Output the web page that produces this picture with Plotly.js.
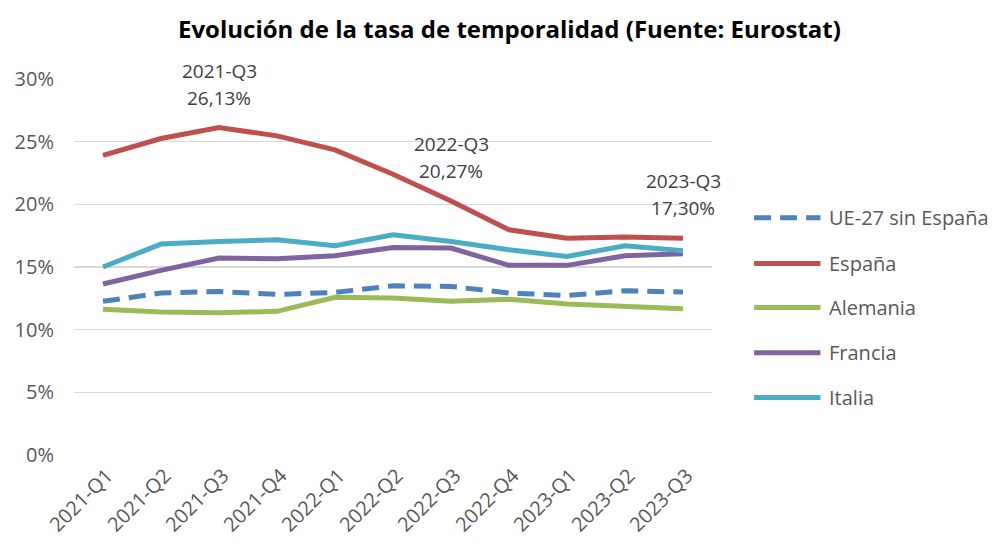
<!DOCTYPE html>
<html>
<head>
<meta charset="utf-8">
<script src="https://cdn.plot.ly/plotly-3.0.1.min.js"></script>
<style>html,body{margin:0;padding:0;background:#fff;}</style>
</head>
<body>
<div id="chart" style="width:995px;height:545px;"></div>
<script>
const quarters = ["2021-Q1","2021-Q2","2021-Q3","2021-Q4","2022-Q1","2022-Q2","2022-Q3","2022-Q4","2023-Q1","2023-Q2","2023-Q3"];
const ue27 =     [12.26, 12.92, 13.05, 12.81, 12.97, 13.50, 13.45, 12.92, 12.73, 13.10, 13.00];
const espana =   [23.90, 25.25, 26.13, 25.46, 24.34, 22.40, 20.27, 17.97, 17.30, 17.40, 17.30];
const alemania = [11.62, 11.41, 11.35, 11.46, 12.58, 12.52, 12.26, 12.42, 12.05, 11.86, 11.67];
const francia =  [13.64, 14.73, 15.71, 15.66, 15.90, 16.56, 16.51, 15.13, 15.13, 15.90, 16.06];
const italia =   [15.00, 16.83, 17.04, 17.17, 16.69, 17.57, 17.04, 16.37, 15.84, 16.69, 16.29];
const seriesNames = ["UE-27 sin España","España","Alemania","Francia","Italia"];
const seriesColors = ["#4f81bd","#c0504d","#9bbb59","#8064a2","#4bacc6"];
const labelQuarters = ["2021-Q3","2022-Q3","2023-Q3"];
const labelValues = [26.13, 20.27, 17.30];
const labelTexts = ["26,13%","20,27%","17,30%"];

const seriesData = [ue27, espana, alemania, francia, italia];
const traces = seriesData.map((v, i) => ({
  type: "scatter", mode: "lines", x: quarters, y: v, name: seriesNames[i],
  line: {color: seriesColors[i], width: 5, dash: i === 0 ? "17px,9px" : "solid"},
  hoverinfo: "x+y+name", showlegend: false
}));

const fontFam = "'Open Sans', 'Noto Sans', sans-serif";
const annotations = [];
labelQuarters.forEach((q, i) => {
  annotations.push({x: q, y: labelValues[i], xref: "x", yref: "y", text: q, showarrow: false,
    yanchor: "bottom", yshift: 42, font: {family: fontFam, size: 19, color: "#404040"}});
  annotations.push({x: q, y: labelValues[i], xref: "x", yref: "y", text: labelTexts[i], showarrow: false,
    yanchor: "bottom", yshift: 15, font: {family: fontFam, size: 19, color: "#404040"}});
});

const shapes = [];
const legendY = [0.631, 0.509, 0.392, 0.272, 0.153];
seriesNames.forEach((n, i) => {
  shapes.push({type: "line", xref: "paper", yref: "paper", x0: 1.066, x1: 1.170, y0: legendY[i], y1: legendY[i],
    line: {color: seriesColors[i], width: 5, dash: i === 0 ? "17px,9px" : "solid"}});
  annotations.push({xref: "paper", yref: "paper", x: 1.181, y: legendY[i], xanchor: "left", yanchor: "middle",
    text: n, showarrow: false, font: {family: fontFam, size: 20, color: "#595959"}});
});

const layout = {
  width: 995, height: 545,
  margin: {l: 74, r: 283, t: 79, b: 89.5},
  paper_bgcolor: "#ffffff", plot_bgcolor: "#ffffff",
  title: {text: "<b>Evolución de la tasa de temporalidad (Fuente: Eurostat)</b>",
    x: 0.512, xref: "container", xanchor: "center", y: 0.945, yref: "container", yanchor: "middle",
    font: {family: fontFam, size: 24, color: "#000000"}},
  xaxis: {type: "category", range: [-0.5, 10.5], showgrid: false, zeroline: false, showline: false,
    tickangle: -45, ticks: "", ticklabelstandoff: 4, ticklabelshift: 4,
    tickfont: {family: fontFam, size: 20, color: "#595959"}, fixedrange: true},
  yaxis: {range: [0, 30], dtick: 5, ticksuffix: "%", showgrid: true, gridcolor: "#d9d9d9", gridwidth: 1.5,
    zeroline: false, showline: false, ticks: "", ticklabelstandoff: 19,
    tickfont: {family: fontFam, size: 20, color: "#595959"}, fixedrange: true},
  showlegend: false,
  annotations: annotations,
  shapes: shapes
};

Plotly.newPlot("chart", traces, layout, {displayModeBar: false, staticPlot: true});
</script>
</body>
</html>
